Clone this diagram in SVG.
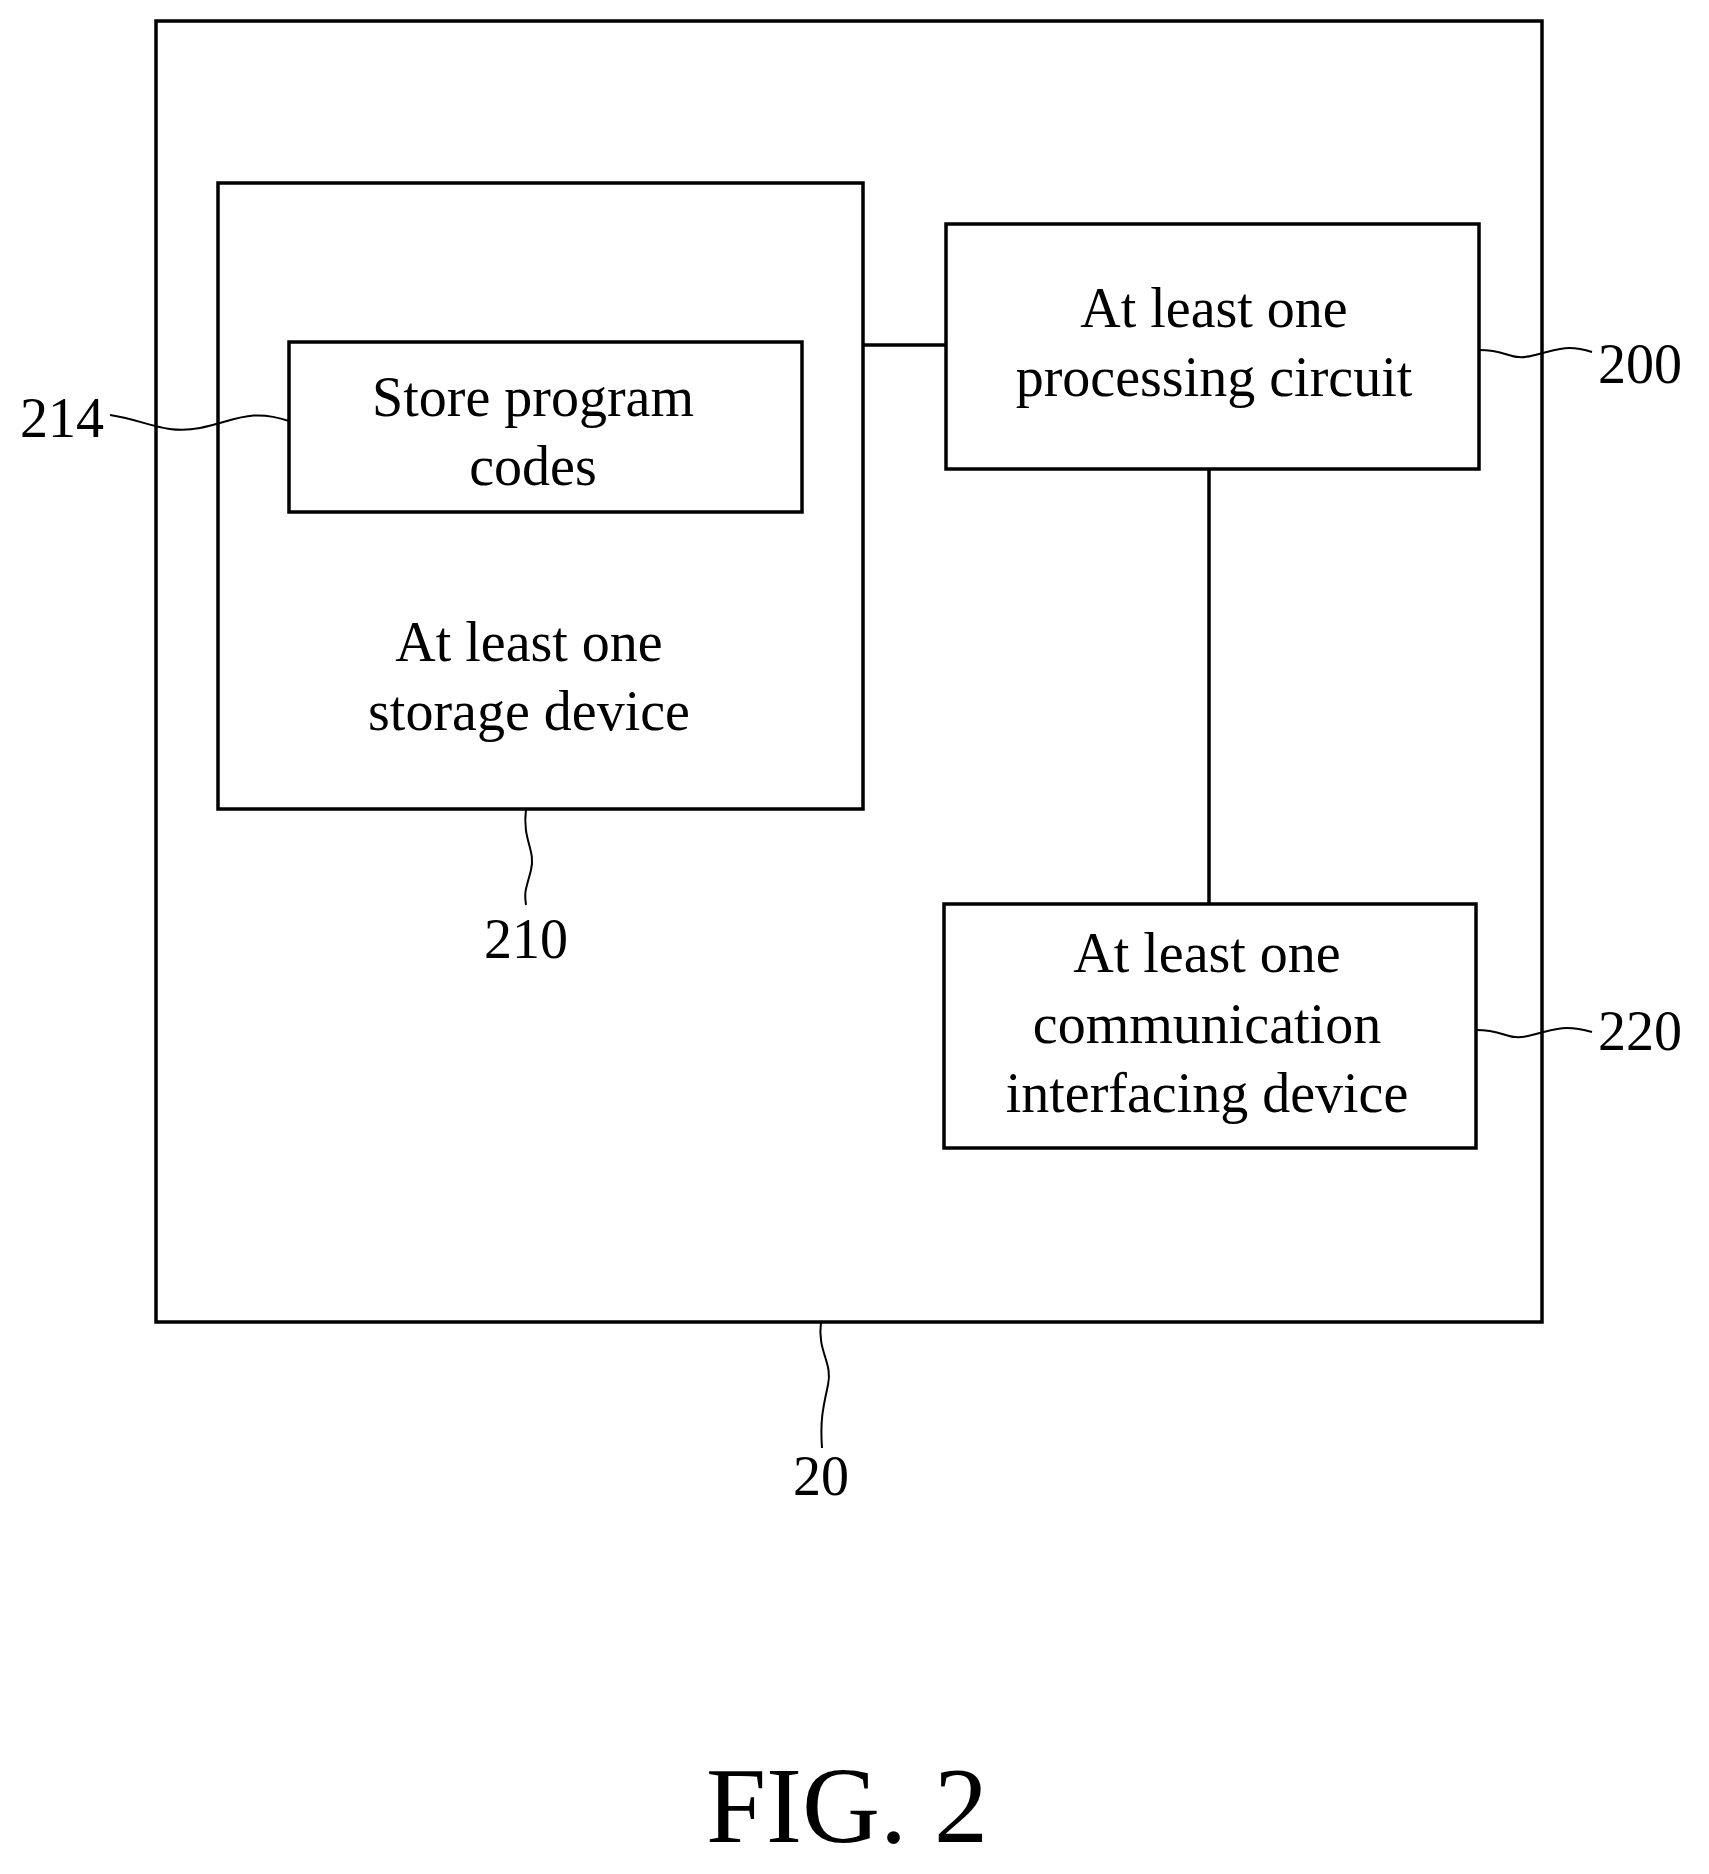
<svg xmlns="http://www.w3.org/2000/svg" width="1709" height="1874" viewBox="0 0 1709 1874">
<style>
rect{fill:none;stroke:#000;stroke-width:3.5}
path,line{fill:none;stroke:#000;stroke-width:2}
text{font-family:"Liberation Serif",serif;font-size:56px;text-anchor:middle;fill:#000}
.c{stroke-width:3.5}
</style>
<rect fill="#fff" style="fill:#fff;stroke:none" width="1709" height="1874"/>
<g id="n20"><rect x="156" y="21" width="1386" height="1301"/></g>
<g id="n210"><rect x="218" y="183" width="645" height="626"/><text x="529" y="661">At least one</text><text x="529" y="730">storage device</text></g>
<g id="n214"><rect x="289" y="342" width="513" height="170"/><text x="533" y="416">Store program</text><text x="533" y="485">codes</text></g>
<g id="n200"><rect x="946" y="224" width="533" height="245"/><text x="1214" y="327">At least one</text><text x="1214" y="396">processing circuit</text></g>
<g id="n220"><rect x="944" y="904" width="532" height="244"/><text x="1207" y="972">At least one</text><text x="1207" y="1043">communication</text><text x="1207" y="1112">interfacing device</text></g>
<g id="connectors">
<line class="c" x1="863" y1="345" x2="946" y2="345"/>
<line class="c" x1="1209" y1="469" x2="1209" y2="904"/>
<path d="M1479 350 C1510 350,1510 362,1535 355 S1570 345,1592 352"/>
<path d="M1476 1030 C1507 1030,1507 1042,1532 1035 S1567 1025,1592 1032"/>
<path d="M110 415 C145 420,165 435,200 428 S250 408,289 421"/>
<path d="M526 809 C522 840,536 850,531 870 S524 890,526 905"/>
<path d="M821 1322 C817 1352,833 1362,828 1385 S820 1420,822 1448"/>
</g>
<g id="labels">
<text x="1640" y="383">200</text>
<text x="1640" y="1050">220</text>
<text x="62" y="437">214</text>
<text x="526" y="958">210</text>
<text x="821" y="1495">20</text>
<text x="847" y="1842" style="font-size:108px">FIG. 2</text>
</g>
</svg>
